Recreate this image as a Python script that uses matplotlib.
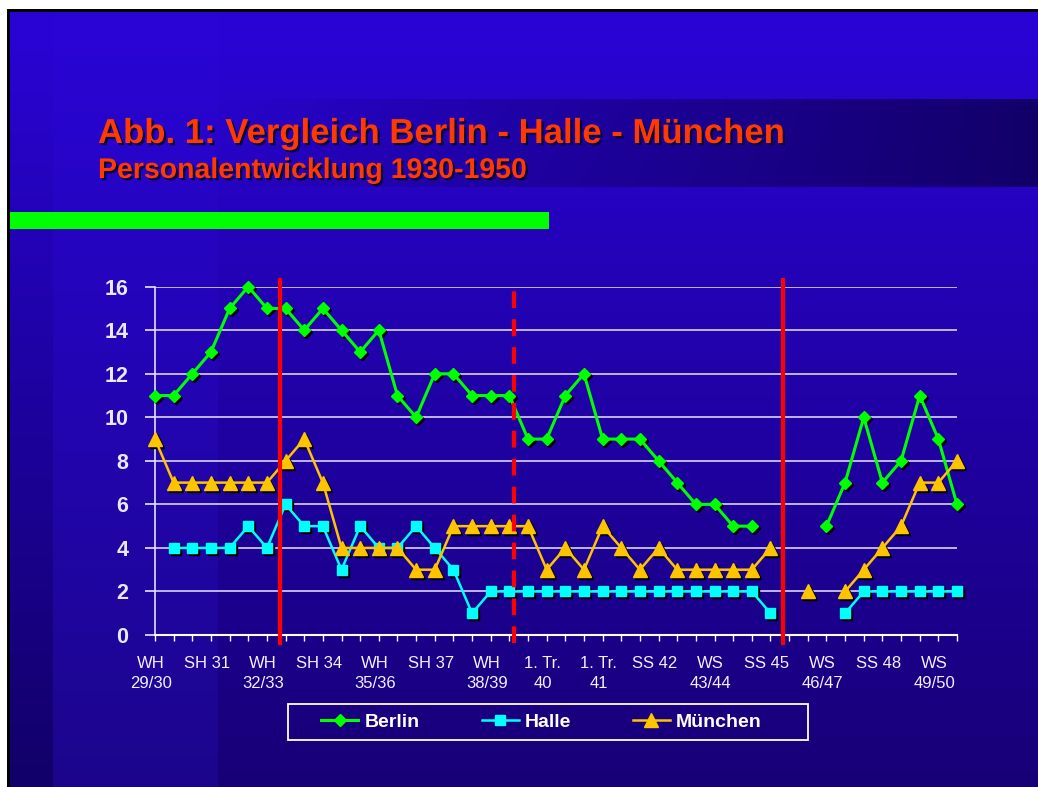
import numpy as np
import matplotlib
matplotlib.use("Agg")
import matplotlib.pyplot as plt
from matplotlib import patheffects as pe
from matplotlib.transforms import ScaledTranslation

# Personalentwicklung, one value per semester (44 categories)
berlin = [11, 11, 12, 13, 15, 16, 15, 15, 14, 15,
          14, 13, 14, 11, 10, 12, 12, 11, 11, 11,
          9, 9, 11, 12, 9, 9, 9, 8, 7, 6,
          6, 5, 5, None, None, None, 5, 7, 10, 7,
          8, 11, 9, 6]
halle = [None, 4, 4, 4, 4, 5, 4, 6, 5, 5,
         3, 5, 4, 4, 5, 4, 3, 1, 2, 2,
         2, 2, 2, 2, 2, 2, 2, 2, 2, 2,
         2, 2, 2, 1, None, None, None, 1, 2, 2,
         2, 2, 2, 2]
muenchen = [9, 7, 7, 7, 7, 7, 7, 8, 9, 7,
            4, 4, 4, 4, 3, 3, 5, 5, 5, 5,
            5, 3, 4, 3, 5, 4, 3, 4, 3, 3,
            3, 3, 3, 4, None, 2, None, 2, 3, 4,
            5, 7, 7, 8]
tick_labels = ["WH\n29/30", "SH 31", "WH\n32/33", "SH 34", "WH\n35/36",
               "SH 37", "WH\n38/39", "1. Tr.\n40", "1. Tr.\n41", "SS 42",
               "WS\n43/44", "SS 45", "WS\n46/47", "SS 48", "WS\n49/50"]
# red separators (category positions)
solid_marks = [6.7, 33.65]
dashed_marks = [19.25]

W, H = 1038, 787
plt.rcParams["font.family"] = ["Liberation Sans", "DejaVu Sans"]
fig = plt.figure(figsize=(W / 100, H / 100), dpi=100, facecolor="white")

# ---- background (slide) ----
bg = fig.add_axes([0, 0, 1, 1])
bg.axis("off")

yy = np.linspace(0, 1, H)[:, None]
top = np.array([42, 4, 216]) / 255
bot_right = np.array([23, 0, 118]) / 255
bot_mid = np.array([28, 6, 140]) / 255
bot_left = np.array([18, 0, 104]) / 255
img = np.empty((H, W, 3))
xs = np.arange(W)
for lo, hi, bcol in [(0, 53, bot_left), (53, 218, bot_mid), (218, W, bot_right)]:
    img[:, lo:hi, :] = (top + (bcol - top) * yy)[:, None, :]
# title band darkening to the right
band = slice(99, 187)
tx = np.clip((xs - 218) / (W - 218), 0, 1)[None, 218:, None]
dark = np.array([18, 0, 104]) / 255
img[band, 218:, :] = img[band, 218:, :] * (1 - tx) + dark * tx

bg.add_patch(plt.Rectangle((7, 9), W, H, facecolor="black", edgecolor="none", zorder=1))
bg.imshow(img[12:, 10:, :], extent=(10, W, H, 12), aspect="auto",
          interpolation="bilinear", zorder=2)
bg.add_patch(plt.Rectangle((10, 212), 539, 17, facecolor="#00ff00", edgecolor="none", zorder=3))
# legend box
bg.add_patch(plt.Rectangle((288, 704), 520, 36, facecolor="none", edgecolor="white",
                           lw=1.3, zorder=3))
bg.set_xlim(0, W)
bg.set_ylim(H, 0)

shadow = [pe.withSimplePatchShadow(offset=(1.6, -1.6), shadow_rgbFace="#0a0040", alpha=1)]
fig.text(98 / W, 1 - 143 / H, "Abb. 1: Vergleich Berlin - Halle - München",
         color="#ff3a00", fontsize=25, fontweight="bold", va="baseline", path_effects=shadow)
fig.text(98 / W, 1 - 178 / H, "Personalentwicklung 1930-1950",
         color="#ff3a00", fontsize=20.5, fontweight="bold", va="baseline", path_effects=shadow)

# ---- chart ----
ax = fig.add_axes([155 / W, 1 - 635 / H, 802 / W, 348.3 / H])
ax.set_facecolor("none")
x = np.arange(len(berlin))
b = np.array(berlin, dtype=float)
h = np.array(halle, dtype=float)
m = np.array(muenchen, dtype=float)

sh = ax.transData + ScaledTranslation(2 / 100, -2 / 100, fig.dpi_scale_trans)
series = [
    (b, "Berlin", "#00ff00", "D", 6.3, 2.2),
    (h, "Halle", "#00ffff", "s", 7, 1.8),
    (m, "München", "#ffc400", "^", 9.5, 1.8),
]
handles = []
for vals, name, col, mk, ms, lw in series:
    ax.plot(x, vals, linestyle="none", marker=mk, markersize=ms, color="black",
            transform=sh, zorder=3, clip_on=False)
    ln, = ax.plot(x, vals, color=col, lw=lw, marker=mk, markersize=ms,
                  markeredgecolor=col, label=name, zorder=4, clip_on=False)
    handles.append(ln)

for xm in solid_marks:
    ax.plot([xm, xm], [-0.35, 16.3], color="#ff0000", lw=3, zorder=6, clip_on=False)
for xm in dashed_marks:
    ax.plot([xm, xm], [-0.35, 16.3], color="#ff0000", lw=3, dashes=(4, 2.7),
            zorder=6, clip_on=False)

ax.set_xlim(0, len(berlin) - 1)
ax.set_ylim(0, 16)
ax.set_yticks(range(0, 17, 2))
ax.set_xticks(range(0, len(berlin), 3))
ax.set_xticklabels(tick_labels, linespacing=1.45)
ax.set_xticks(x, minor=True)
ax.grid(axis="y", color="#d8d4f4", lw=1.2, zorder=1)
for s in ["top", "right"]:
    ax.spines[s].set_visible(False)
ax.spines["left"].set_color("#e0e0f8")
ax.spines["bottom"].set_color("white")
ax.spines["left"].set_linewidth(1.2)
ax.spines["bottom"].set_linewidth(1.5)
ax.tick_params(axis="y", colors="#e8e8ff", length=7, width=1.2, pad=12, labelsize=15.5)
ax.tick_params(axis="x", which="both", colors="white", length=4, width=1, direction="out")
ax.tick_params(axis="x", which="major", pad=11, labelsize=12, labelcolor="#f0f0ff")
for lab in ax.get_yticklabels():
    lab.set_fontweight("bold")
off = ScaledTranslation(-4 / 100, 0, fig.dpi_scale_trans)
for lab in ax.get_xticklabels():
    lab.set_transform(lab.get_transform() + off)

leg = fig.legend(handles=handles, loc="center", bbox_to_anchor=(541.5 / W, 1 - 722 / H),
                 ncol=3, frameon=False, handlelength=1.9,
                 handletextpad=0.3, columnspacing=3.2, borderpad=0.2,
                 prop={"weight": "bold", "size": 14})
for t in leg.get_texts():
    t.set_color("white")

fig.savefig("out.png", dpi=100, facecolor=fig.get_facecolor())
